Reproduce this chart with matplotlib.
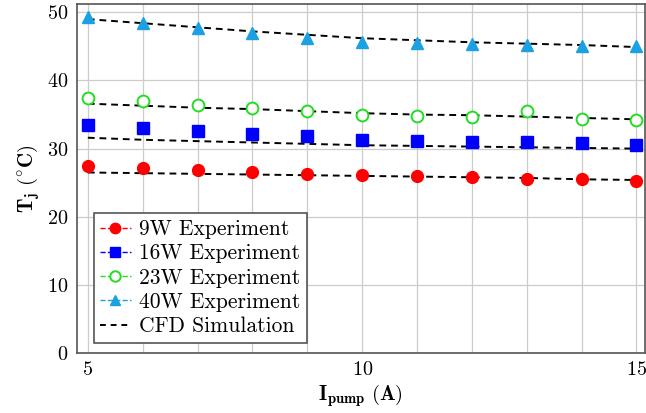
from matplotlib import pyplot as plt
from matplotlib.lines import Line2D

plt.rcParams['font.family'] = 'serif'
plt.rcParams['font.serif'] = ['cmr10']
plt.rcParams['mathtext.fontset'] = 'cm'
plt.rcParams['axes.formatter.use_mathtext'] = True

# pump current (A)
current = [5, 6, 7, 8, 9, 10, 11, 12, 13, 14, 15]

# measured junction temperature (°C)
exp_9w = [27.4, 27.1, 26.8, 26.6, 26.3, 26.1, 26.0, 25.8, 25.6, 25.5, 25.3]
exp_16w = [33.5, 33.1, 32.6, 32.2, 31.8, 31.3, 31.1, 31.0, 30.9, 30.8, 30.6]
exp_23w = [37.4, 37.0, 36.4, 36.0, 35.5, 35.0, 34.8, 34.7, 35.5, 34.4, 34.2]
exp_40w = [49.3, 48.5, 47.7, 47.0, 46.3, 45.6, 45.5, 45.3, 45.2, 45.1, 45.0]

# CFD simulation
cfd_9w = [26.5, 26.4, 26.3, 26.2, 26.1, 26.0, 25.9, 25.8, 25.7, 25.5, 25.4]
cfd_16w = [31.6, 31.3, 31.1, 30.9, 30.7, 30.5, 30.4, 30.3, 30.2, 30.1, 30.0]
cfd_23w = [36.6, 36.3, 36.0, 35.8, 35.5, 35.2, 35.0, 34.9, 34.7, 34.5, 34.3]
cfd_40w = [49.0, 48.4, 47.8, 47.2, 46.7, 46.2, 45.9, 45.6, 45.4, 45.2, 44.9]

red = '#ff0000'
blue = '#0000ff'
green = '#22dd22'
cyan = '#1ba1e2'

fig = plt.figure(figsize=(6.46, 4.13), dpi=100)
ax = fig.add_axes([0.119, 0.145, 0.879, 0.845])

for cfd in [cfd_9w, cfd_16w, cfd_23w, cfd_40w]:
    ax.plot(current, cfd, color='black', linestyle=(0, (3.5, 2.5)), linewidth=1.4, zorder=2)

ax.plot(current, exp_9w, 'o', color=red, markersize=8.5, zorder=3)
ax.plot(current, exp_16w, 's', color=blue, markersize=8.5, zorder=3)
ax.plot(current, exp_23w, 'o', color=green, markerfacecolor='white', markeredgewidth=1.4, markersize=8.5, zorder=3)
ax.plot(current, exp_40w, '^', color=cyan, markersize=8.5, zorder=3)

handles = [
    Line2D([], [], color=red, ls='--', marker='o', markersize=7.5, lw=1),
    Line2D([], [], color=blue, ls='--', marker='s', markersize=7.5, lw=1),
    Line2D([], [], color=green, ls='--', marker='o', markerfacecolor='white', markeredgewidth=1.4, markersize=7.5, lw=1),
    Line2D([], [], color=cyan, ls='--', marker='^', markersize=7.5, lw=1),
    Line2D([], [], color='black', ls=(0, (3, 2.5)), lw=1.4),
]
labels = ['9W Experiment', '16W Experiment', '23W Experiment', '40W Experiment', 'CFD Simulation']
leg = ax.legend(handles, labels, loc='lower left', bbox_to_anchor=(0.03, 0.03), borderaxespad=0,
                fontsize=15.5, handlelength=1.4, handletextpad=0.4, labelspacing=0.22,
                borderpad=0.3, fancybox=False, framealpha=1, edgecolor='#555555')
leg.get_frame().set_linewidth(1.2)

ax.set_xlim(4.8, 15.15)
ax.set_ylim(0, 51.2)
ax.set_xticks([5, 10, 15])
ax.set_xticks(current, minor=True)
ax.set_yticks([0, 10, 20, 30, 40, 50])
ax.grid(True, which='both', color='#cccccc', linewidth=0.9)
ax.set_axisbelow(True)
ax.tick_params(which='both', length=0, labelsize=14.5, pad=6)
for s in ax.spines.values():
    s.set_color('#555555')
    s.set_linewidth(1.2)

ax.set_xlabel(r'$\mathbf{I_{pump}\ (A)}$', fontsize=15, labelpad=2)
ax.set_ylabel(r'$\mathbf{T_j\ (^{\circ}C)}$', fontsize=15, labelpad=4)

plt.savefig('out.png', dpi=100)
